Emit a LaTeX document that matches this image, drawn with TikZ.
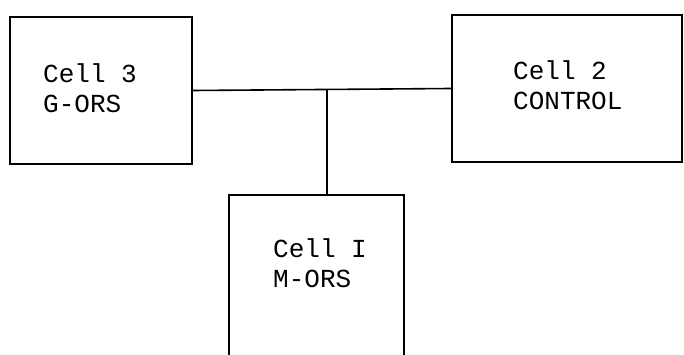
\documentclass[tikz,border=0pt]{standalone}
\usepackage{fontspec}
\setmonofont{Liberation Mono}
\usetikzlibrary{positioning,calc}

\begin{document}
\begin{tikzpicture}[
            x=1pt, y=-1pt,
            cell/.style={rectangle, draw, line width=1.6pt, inner sep=0pt},
            txt/.style={align=left, inner sep=0pt, font=\fontsize{26}{30}\selectfont\ttfamily},
            wire/.style={line width=1.6pt}
        ]
            \useasboundingbox (0,0) rectangle (684,355);
            \clip (0,0) rectangle (684,355);
            % boxes
            \node[cell, minimum width=182pt, minimum height=147pt] (cellthree) at (101,90.5) {};
            \node[cell, minimum width=230pt, minimum height=147pt] (celltwo) at (567,88.5) {};
            \node[cell, minimum width=175pt, minimum height=200pt] (cellone) at (316.5,295) {};
            % labels
            \node[txt, anchor=base west] (threetxt) at (43,113) {Cell 3\\G-ORS};
            \node[txt, anchor=base west] (twotxt) at (513,110) {Cell 2\\CONTROL};
            \node[txt, anchor=base west] (onetxt) at (273,287) {Cell I\\M-ORS};
            % bus
            \coordinate (junc) at (327,90);
            \draw[wire] (cellthree.east) -- (celltwo.west);
            \draw[wire] (junc) -- (junc |- cellone.north);
        \end{tikzpicture}
\end{document}
